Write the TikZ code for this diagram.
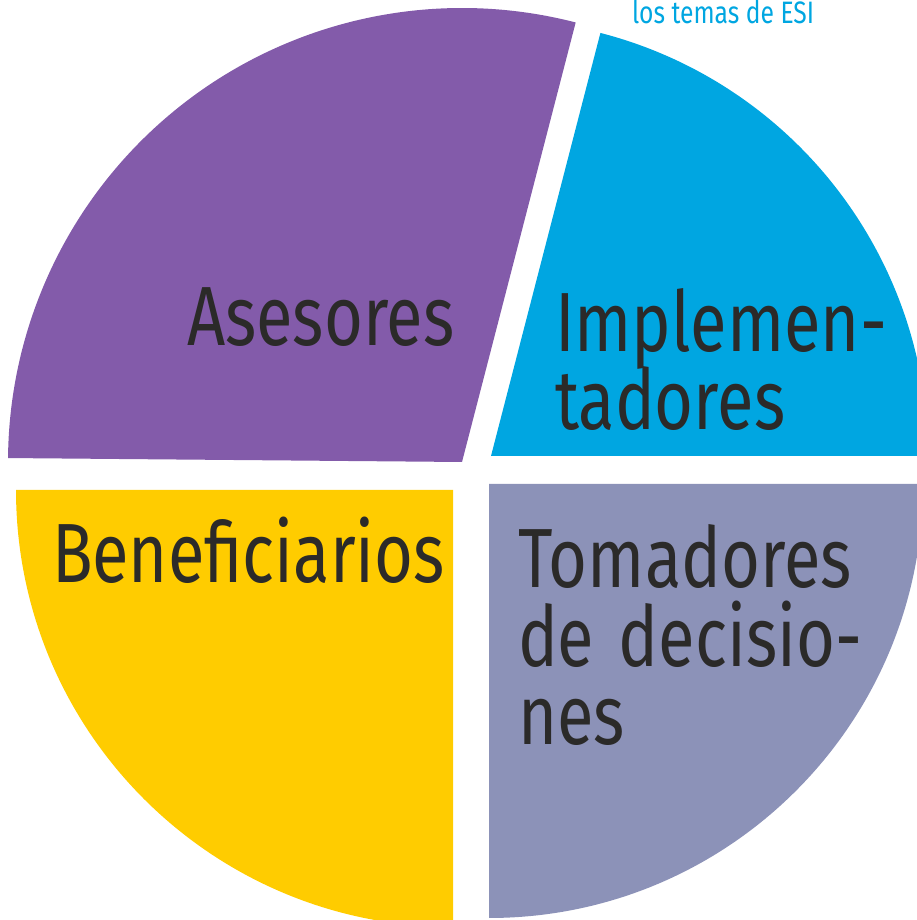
\documentclass[tikz,border=0pt]{standalone}
\usepackage{fontspec}
\setmainfont{Fira Sans}[FakeStretch=0.795]
\usepackage{tikz}
\usetikzlibrary{positioning}
\definecolor{mypurple}{HTML}{835BAA}
\definecolor{myblue}{HTML}{00A6E1}
\definecolor{mygrey}{HTML}{8C92B8}
\definecolor{myyellow}{HTML}{FFCC00}
\definecolor{mytext}{HTML}{2B2A29}
\tikzset{x=1pt, y=1pt, every text node part/.style={align=left}}
\tikzstyle{slice} = [draw=none]
\tikzstyle{big} = [inner sep=0pt, outer sep=0pt, anchor=base west, text=mytext, font={\fontsize{84}{78}\selectfont}]
\tikzstyle{small} = [inner sep=0pt, outer sep=0pt, anchor=base west, text=myblue, font={\fontsize{30}{36}\selectfont}]

\begin{document}
\begin{tikzpicture}
  \useasboundingbox (0,0) rectangle (917,920);
  \clip (0,0) rectangle (917,920);
  \fill[slice, mypurple] (462,458) -- ++(75.5:454) arc[start angle=75.5, end angle=179.5, radius=454] -- cycle;
  \fill[slice, myblue] (491,464) -- ++(0:437) arc[start angle=0, end angle=75.5, radius=437] -- cycle;
  \fill[slice, mygrey] (489,436) -- ++(270:434) arc[start angle=270, end angle=360, radius=434] -- cycle;
  \fill[slice, myyellow] (453,430) -- ++(180:437) arc[start angle=180, end angle=270, radius=437] -- cycle;
  \node[big] (asesores) at (187,574) {Asesores};
  \node[big] (implemen) at (555,568) {Implemen-};
  \node[big] (tadores) at (555,490) {tadores};
  \node[big] (beneficiarios) at (52,337) {Beneficiarios};
  \node[big] (tomadores) at (518,332) {Tomadores};
  \node[big, text width=344] (decisio) at (518,253) {de\hfill decisio-};
  \node[big] (nes) at (518,175) {nes};
  \node[small, font={\fontsize{31}{36}\selectfont}] (temas) at (632,896) {los temas de ESI};
\end{tikzpicture}
\end{document}
